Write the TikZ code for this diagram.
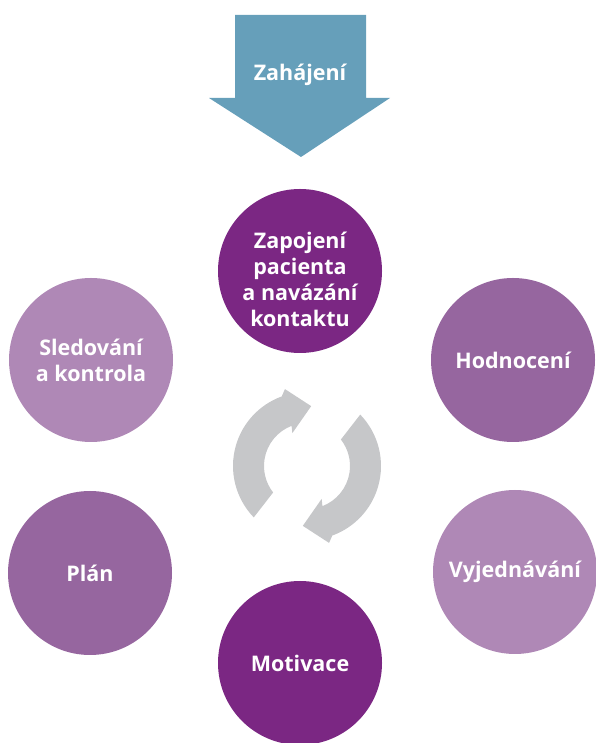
\documentclass[tikz,border=0pt]{standalone}
\usepackage{fontspec}
\setmainfont{Open Sans}
\definecolor{startblue}{HTML}{669FBA}
\definecolor{darkviolet}{HTML}{7B2783}
\definecolor{midviolet}{HTML}{96669F}
\definecolor{lightviolet}{HTML}{AF88B6}
\definecolor{cyclegray}{HTML}{C6C7C9}
\tikzset{
  stagetext/.style={text=white, inner sep=0pt,
    font=\bfseries\fontsize{21.5}{26}\selectfont, align=center},
  stage/.style={stagetext, circle, minimum size=164pt},
}
\begin{document}
\begin{tikzpicture}[x=1pt, y=1pt]
  \useasboundingbox (0,0) rectangle (596,743);
  \clip (0,0) rectangle (596,743);
  % vstupni sipka
  \fill[startblue] (235,728) -- (366,728) -- (366,645) -- (390,645)
    -- (301,586) -- (209,645) -- (235,645) -- cycle;
  \node[stagetext] (start) at (300,668) {Zahájení};
  % kruhy
  \node[stage, fill=darkviolet] (zapojeni) at (300,472) {};
  \node[stagetext] (zapojenitext) at ([yshift=-8pt]zapojeni.center) {Zapojení\\pacienta\\a navázání\\kontaktu};
  \node[stage, fill=midviolet] (hodnoceni) at (513,383) {Hodnocení};
  \node[stage, fill=lightviolet] (vyjednavani) at (515,171) {Vyjednávání};
  \node[stage, fill=darkviolet] (motivace) at (300,80) {Motivace};
  \node[stage, fill=midviolet] (plan) at (90,170) {Plán};
  \node[stage, fill=lightviolet] (sledovani) at (91,383) {Sledování\\a kontrola};
  % cyklus uprostred
  \begin{scope}[shift={(307,277)}]
    \foreach \r in {0,180}
      \fill[cyclegray, rotate=\r] (224:74) arc[start angle=224, end angle=110, radius=74]
        -- (106:80) -- (86:60) -- (114:36) -- (111:43)
        arc[start angle=111, end angle=218, radius=43] -- cycle;
  \end{scope}
\end{tikzpicture}
\end{document}
